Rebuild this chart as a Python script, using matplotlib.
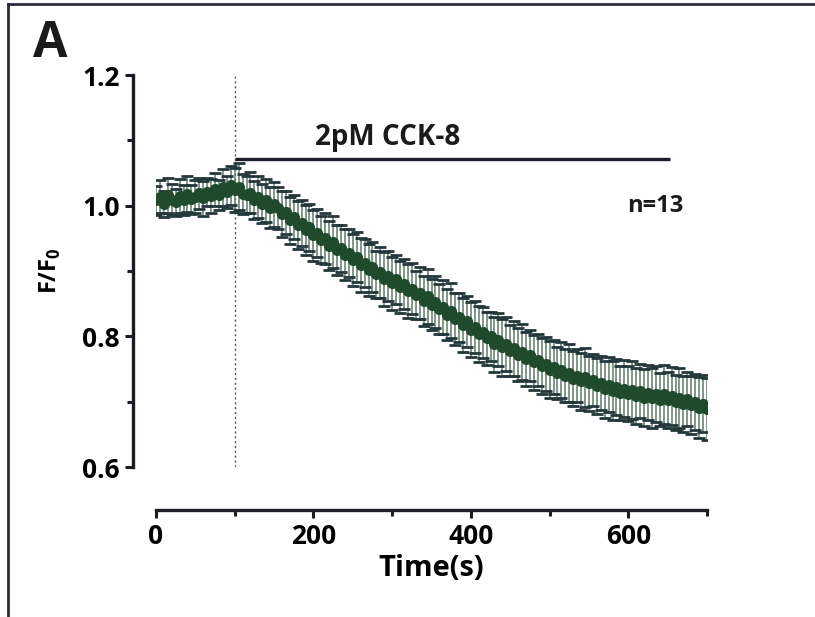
import numpy as np
import matplotlib
matplotlib.use("Agg")
import matplotlib.pyplot as plt
from matplotlib.lines import Line2D

plt.rcParams['font.family'] = ['Open Sans', 'DejaVu Sans']
plt.rcParams['font.weight'] = 'bold'
plt.rcParams['mathtext.fontset'] = 'custom'
plt.rcParams['mathtext.rm'] = 'Open Sans:bold'
plt.rcParams['mathtext.bf'] = 'Open Sans:bold'

# time points every 5 s, 0..700
time_s = np.arange(0, 701, 5)

ratio = [
    1.008, 1.014, 1.003, 1.016, 1.009, 1.005, 1.015, 1.008, 1.018, 1.010, 1.014,
    1.019, 1.011, 1.021, 1.015, 1.025, 1.017, 1.028, 1.021, 1.031, 1.024,
    1.029, 1.018, 1.017, 1.020, 1.008, 1.013, 1.003, 1.008, 0.997, 1.002,
    0.996, 0.987, 0.990, 0.978, 0.983, 0.970, 0.973, 0.963, 0.967, 0.955,
    0.958, 0.948, 0.950, 0.939, 0.944, 0.932, 0.935, 0.925, 0.928, 0.917,
    0.921, 0.909, 0.912, 0.902, 0.906, 0.895, 0.898, 0.888, 0.892, 0.881,
    0.887, 0.875, 0.880, 0.869, 0.873, 0.863, 0.866, 0.854, 0.861, 0.848,
    0.852, 0.842, 0.845, 0.833, 0.839, 0.826, 0.829, 0.817, 0.823, 0.810,
    0.814, 0.803, 0.806, 0.797, 0.800, 0.788, 0.795, 0.783, 0.788, 0.778,
    0.782, 0.772, 0.776, 0.765, 0.771, 0.760, 0.764, 0.754, 0.758, 0.749,
    0.753, 0.744, 0.749, 0.740, 0.744, 0.735, 0.740, 0.731, 0.737, 0.728,
    0.733, 0.724, 0.729, 0.719, 0.726, 0.717, 0.722, 0.713, 0.720, 0.712,
    0.718, 0.709, 0.716, 0.706, 0.714, 0.705, 0.712, 0.703, 0.711, 0.702,
    0.709, 0.699, 0.706, 0.697, 0.704, 0.695, 0.700, 0.691, 0.697, 0.689,
]

sem = [
    0.022, 0.025, 0.020, 0.027, 0.024, 0.021, 0.026, 0.023, 0.028, 0.022, 0.025,
    0.024, 0.027, 0.022, 0.026, 0.025, 0.023, 0.028, 0.024, 0.030, 0.034,
    0.036, 0.030, 0.028, 0.031, 0.029, 0.032, 0.030, 0.033, 0.031, 0.034,
    0.032, 0.035, 0.033, 0.036, 0.034, 0.037, 0.035, 0.038, 0.036, 0.039,
    0.037, 0.036, 0.039, 0.037, 0.040, 0.038, 0.036, 0.039, 0.037, 0.040,
    0.038, 0.041, 0.037, 0.040, 0.038, 0.036, 0.039, 0.041, 0.038, 0.040,
    0.037, 0.040, 0.038, 0.041, 0.039, 0.037, 0.040, 0.038, 0.042, 0.039,
    0.040, 0.038, 0.041, 0.039, 0.042, 0.040, 0.038, 0.041, 0.039, 0.042,
    0.040, 0.043, 0.039, 0.041, 0.038, 0.042, 0.040, 0.043, 0.041, 0.039,
    0.042, 0.040, 0.043, 0.041, 0.039, 0.042, 0.040, 0.043, 0.041, 0.044,
    0.042, 0.040, 0.043, 0.041, 0.044, 0.042, 0.040, 0.043, 0.045, 0.042,
    0.040, 0.043, 0.041, 0.044, 0.042, 0.045, 0.043, 0.041, 0.044, 0.042,
    0.045, 0.043, 0.041, 0.044, 0.042, 0.046, 0.043, 0.041, 0.045, 0.043,
    0.044, 0.042, 0.046, 0.043, 0.041, 0.045, 0.043, 0.046, 0.044, 0.047,
]

stim_start = 100
stim_end = 653
stim_level = 1.072
stim_label = "2pM CCK-8"
n_label = "n=13"

fig = plt.figure(figsize=(8.15, 6.17), dpi=100)
ax = fig.add_axes([156 / 815, 1 - 467 / 617, 551 / 815, 392 / 617])

line, caps, bars = ax.errorbar(time_s, ratio, yerr=sem, fmt='o', ms=7,
                               color='#1f4a2c', ecolor='#5d7a68',
                               elinewidth=1.1, capsize=4.5, capthick=2.0,
                               zorder=3)
for c in caps:
    c.set_markeredgecolor('#24383c')

ax.axvline(stim_start, color='#555555', ls=(0, (1.5, 2)), lw=1.0, zorder=1)
ax.plot([stim_start, stim_end], [stim_level, stim_level], color='#1c1c2a',
        lw=2.4, solid_capstyle='butt')
ax.text(294, 1.082, stim_label, ha='center', va='bottom', fontsize=20,
        fontweight='bold', color='#1a1a1a')
ax.text(634, 1.0, n_label, ha='center', va='center', fontsize=17,
        fontweight='bold', color='#1a1a1a')

ax.set_xlim(0, 700)
ax.set_ylim(0.6, 1.2)
for s in ['top', 'right']:
    ax.spines[s].set_visible(False)
ax.spines['left'].set_position(('outward', 23 * 0.72))
ax.spines['bottom'].set_position(('outward', 43 * 0.72))
ax.spines['left'].set_bounds(0.6, 1.2)
ax.spines['bottom'].set_bounds(0, 700)
for s in ['left', 'bottom']:
    ax.spines[s].set_linewidth(2.4)
    ax.spines[s].set_color('#1c1c24')

ax.set_xticks([0, 200, 400, 600])
ax.set_xticks([100, 300, 500, 700], minor=True)
ax.set_yticks([0.6, 0.8, 1.0, 1.2])
ax.set_yticks([0.7, 0.9, 1.1], minor=True)
ax.set_yticklabels(['0.6', '0.8', '1.0', '1.2'])
ax.tick_params(which='major', length=6, width=2.2, labelsize=19, color='#1c1c24')
ax.tick_params(which='minor', length=4, width=2.2, color='#1c1c24')
ax.tick_params(axis='x', pad=3)
for lab in ax.get_xticklabels() + ax.get_yticklabels():
    lab.set_fontweight('bold')

ax.set_xlabel('Time(s)', fontsize=21, fontweight='bold', labelpad=3)
ax.set_ylabel('F/F$_0$', fontsize=17, fontweight='bold', labelpad=14)

fig.text(50 / 815, 1 - 44 / 617, 'A', fontsize=36, fontweight='bold',
         ha='center', va='center', color='#1a1a1a')

# panel frame (top and left edges)
fig.add_artist(Line2D([8 / 815, 1.0], [1 - 4 / 617, 1 - 4 / 617],
                      transform=fig.transFigure, color='#2a2a3a', lw=2))
fig.add_artist(Line2D([8 / 815, 8 / 815], [0, 1 - 4 / 617],
                      transform=fig.transFigure, color='#2a2a3a', lw=2))

fig.savefig('out.png', dpi=100)
